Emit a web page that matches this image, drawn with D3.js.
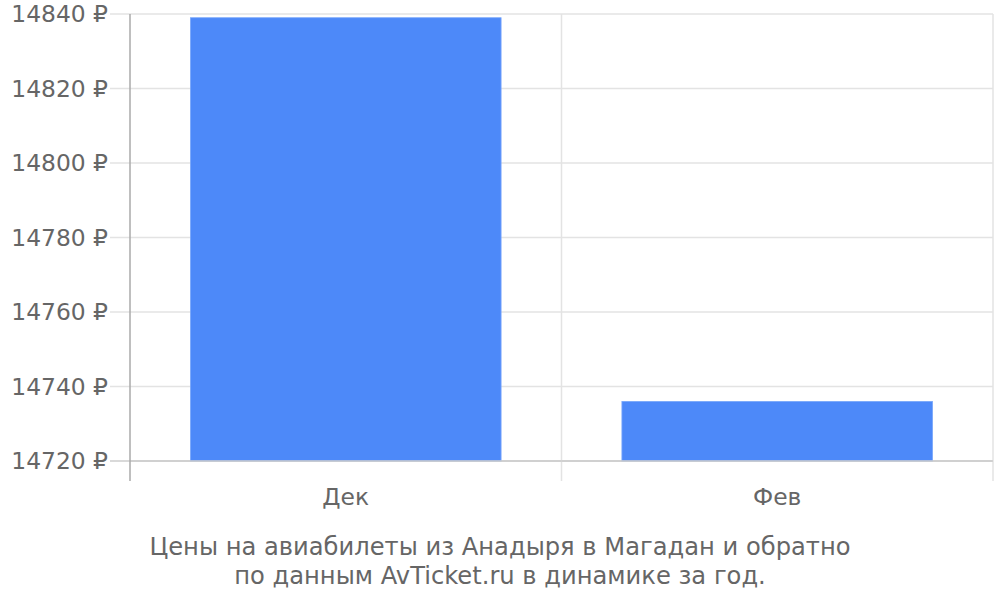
<!DOCTYPE html>
<html><head><meta charset="utf-8">
<script src="https://cdn.jsdelivr.net/npm/d3@7"></script>
<style>body{margin:0;background:#fff}svg{display:block}text{font-family:"DejaVu Sans",sans-serif;fill:#666}</style>
</head><body><svg id="c" width="1000" height="600"></svg>
<script>
const categories = ["Дек", "Фев"];
const values = [14839, 14736];
const yTicks = [14720, 14740, 14760, 14780, 14800, 14820, 14840];
const titleLines = ["Цены на авиабилеты из Анадыря в Магадан и обратно", "по данным AvTicket.ru в динамике за год."];

const svg = d3.select("#c");
const L = 130, R = 993, T = 14, B = 461;
const x = d3.scaleBand().domain(categories).range([L, R]).paddingInner(0.28).paddingOuter(0.14);
const xb = d3.scaleBand().domain(categories).range([L, R]);
const y = d3.scaleLinear().domain([14720, 14840]).range([B, T]);

// horizontal grid
svg.append("g").selectAll("line").data(yTicks).join("line")
  .attr("x1", 110).attr("x2", R).attr("y1", d => y(d)).attr("y2", d => y(d))
  .attr("stroke", d => d === 14720 ? "#cccccc" : "#e3e3e3").attr("stroke-width", 1.5);
// vertical grid
const vx = categories.map(c => xb(c) + xb.bandwidth());
svg.append("g").selectAll("line").data(vx).join("line")
  .attr("x1", d => d).attr("x2", d => d).attr("y1", T).attr("y2", 481)
  .attr("stroke", "#e3e3e3").attr("stroke-width", 1.5);
// bars
svg.append("g").selectAll("rect").data(values).join("rect")
  .attr("x", (d, i) => x(categories[i])).attr("width", x.bandwidth())
  .attr("y", d => y(d)).attr("height", d => B - y(d))
  .attr("fill", "#4d89f9").attr("stroke", "#7aa8fb").attr("stroke-width", 0.8);
// bottom axis line
svg.append("line").attr("x1", L).attr("x2", R).attr("y1", B).attr("y2", B).attr("stroke", "#cccccc").attr("stroke-width", 1.5);
// left axis line
svg.append("line").attr("x1", L).attr("x2", L).attr("y1", T).attr("y2", 481).attr("stroke", "#aaaaaa").attr("stroke-width", 1.5);
// y labels
svg.append("g").selectAll("text").data(yTicks).join("text")
  .attr("x", 108).attr("y", d => y(d)).attr("dy", "0.35em").attr("text-anchor", "end")
  .attr("font-size", 23.4).text(d => d + " ₽");
// x labels
svg.append("g").selectAll("text").data(categories).join("text")
  .attr("x", d => xb(d) + xb.bandwidth() / 2).attr("y", 505).attr("text-anchor", "middle")
  .attr("font-size", 23.4).text(d => d);
// title
svg.append("g").selectAll("text").data(titleLines).join("text")
  .attr("x", 500).attr("y", (d, i) => 555 + i * 29).attr("text-anchor", "middle")
  .attr("font-size", 24.2).text(d => d);
</script></body></html>
